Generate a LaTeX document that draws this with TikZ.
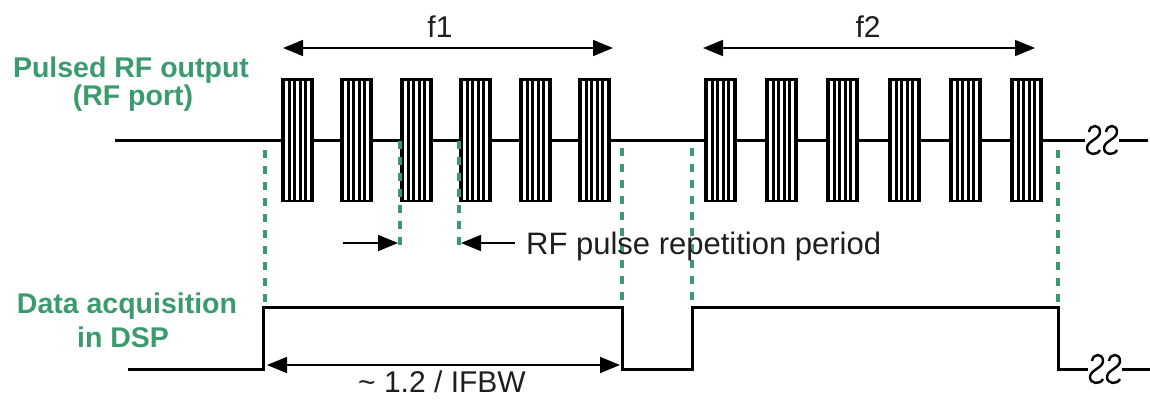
\documentclass[tikz,border=0pt]{standalone}
\usepackage{fontspec}
\setmainfont{Liberation Sans}
\usetikzlibrary{arrows.meta}
\definecolor{tagreen}{RGB}{60,155,110}
\definecolor{txtgray}{RGB}{30,30,30}

\begin{document}
\begin{tikzpicture}[x=1pt,y=-1pt,>={Triangle[length=20pt,width=16pt]},
 sig/.style={line width=3pt,line join=miter},
 guide/.style={tagreen,line width=3.5pt,dash pattern=on 8pt off 8pt},
 dim/.style={<->,line width=1.6pt},
 lbl/.style={font=\fontsize{28.5}{30}\selectfont\bfseries,text=tagreen,inner sep=0pt,anchor=base},
 txt/.style={font=\fontsize{30}{36}\selectfont,text=txtgray,inner sep=0pt,anchor=base},
 pics/pulse/.style={code={
   \fill (0,0) rectangle (33,124);
   \foreach \k in {0,...,4} \fill[white] ({4+5.6*\k},2.5) rectangle ({6.6+5.6*\k},121.5);
 }},
 pics/brk/.style={code={
   \draw[line width=2.4pt] (-5,-8) .. controls (-4,-16) and (6,-16) .. (6,-8)
     .. controls (6,-1) and (-7,1) .. (-7,8) .. controls (-7,15) and (3,16) .. (6,10);
 }}]
\useasboundingbox (0,0) rectangle (1150,400);

% labels on the left
\node[lbl] (rf1) at (131,77) {Pulsed RF output};
\node[lbl] (rf2) at (133,105) {(RF port)};
\node[lbl] (dsp1) at (127,313) {Data acquisition};
\node[lbl] (dsp2) at (123,347) {in DSP};

% RF output line with pulse trains
\draw[sig] (115,140) -- (1085,140);
\pic at (1094,140) {brk}; \pic at (1111,140) {brk};
\draw[sig] (1119,140) -- (1148,140);
\foreach \x in {281,340,400,459,519,578,704,765,826,888,949,1010}
  \pic at (\x,78) {pulse};

% acquisition gate
\draw[sig] (128,369) -| (263,307) -| (622,369) -| (692,307) -| (1058,369) -- (1088,369);
\pic at (1097,369) {brk}; \pic at (1114,369) {brk};
\draw[sig] (1122,369) -- (1150,369);

% green guides
\foreach \x/\ya/\yb in {265/150/307,400/141/247,459/141/247,622/148/307,692/148/307,1058/150/307}
  \draw[guide] (\x,\ya) -- (\x,\yb);

% frequency spans
\coordinate (f1a) at (283,48); \coordinate (f1b) at (613,48);
\coordinate (f2a) at (703,48); \coordinate (f2b) at (1035,48);
\draw[dim] (f1a) -- (f1b);
\draw[dim] (f2a) -- (f2b);
\node[txt] (f1) at (440,37) {f1};
\node[txt] (f2) at (868,37) {f2};

% pulse period
\coordinate (pa) at (343,243); \coordinate (pb) at (398,243);
\coordinate (pc) at (515,243); \coordinate (pd) at (461,243);
\draw[->,line width=1.6pt] (pa) -- (pb);
\draw[->,line width=1.6pt] (pc) -- (pd);
\node[txt,anchor=base west,font=\fontsize{31}{36}\selectfont] (rep) at (526,254) {RF pulse repetition period};

% acquisition time
\coordinate (ta) at (267,365); \coordinate (tb) at (620,365);
\draw[dim] (ta) -- (tb);
\node[txt] (ifbw) at (442,392) {\textasciitilde{} 1.2 / IFBW};
\end{tikzpicture}
\end{document}
